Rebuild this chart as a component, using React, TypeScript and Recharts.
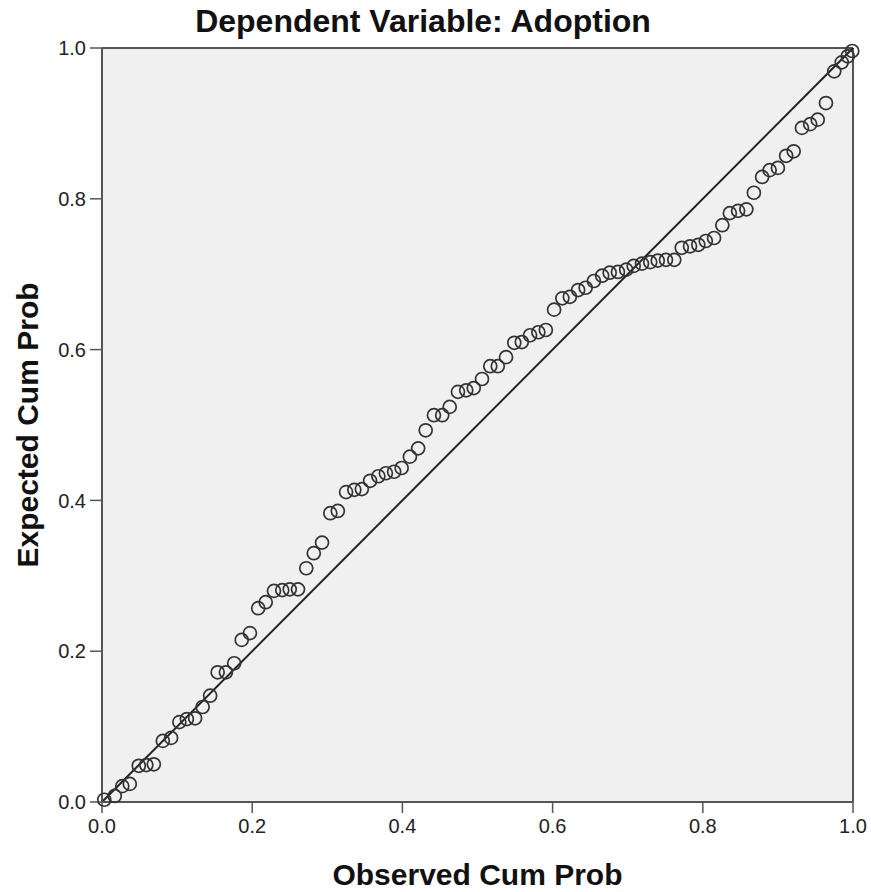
import React from 'react';
import {
  ScatterChart,
  Scatter,
  XAxis,
  YAxis,
  CartesianGrid,
  ReferenceLine,
  Label
} from 'recharts';

const observedCumProb = [
  0.003, 0.017, 0.027, 0.037, 0.049, 0.059, 0.069, 0.081, 0.092, 0.103,
  0.113, 0.124, 0.134, 0.144, 0.154, 0.165, 0.176, 0.186, 0.197, 0.208,
  0.218, 0.229, 0.240, 0.250, 0.261, 0.272, 0.282, 0.293, 0.304, 0.314,
  0.325, 0.336, 0.346, 0.357, 0.368, 0.378, 0.389, 0.399, 0.410, 0.421,
  0.431, 0.442, 0.453, 0.463, 0.474, 0.485, 0.495, 0.506, 0.517, 0.527,
  0.538, 0.549, 0.559, 0.570, 0.581, 0.591, 0.602, 0.613, 0.623, 0.634,
  0.644, 0.655, 0.666, 0.676, 0.687, 0.698, 0.708, 0.719, 0.730, 0.740,
  0.751, 0.762, 0.772, 0.783, 0.794, 0.804, 0.815, 0.826, 0.836, 0.847,
  0.858, 0.868, 0.879, 0.889, 0.900, 0.911, 0.921, 0.932, 0.943, 0.953,
  0.964, 0.975, 0.985, 0.993, 0.999
];

const expectedCumProb = [
  0.003, 0.008, 0.021, 0.024, 0.048, 0.049, 0.050, 0.081, 0.085, 0.106,
  0.110, 0.111, 0.126, 0.141, 0.172, 0.172, 0.184, 0.215, 0.224, 0.257,
  0.265, 0.280, 0.281, 0.282, 0.282, 0.310, 0.330, 0.344, 0.383, 0.386,
  0.411, 0.414, 0.415, 0.426, 0.432, 0.436, 0.438, 0.443, 0.458, 0.469,
  0.493, 0.513, 0.513, 0.524, 0.544, 0.546, 0.549, 0.561, 0.578, 0.578,
  0.590, 0.609, 0.610, 0.619, 0.623, 0.626, 0.653, 0.668, 0.670, 0.679,
  0.682, 0.691, 0.698, 0.702, 0.703, 0.706, 0.711, 0.714, 0.716, 0.718,
  0.719, 0.719, 0.735, 0.737, 0.739, 0.744, 0.748, 0.765, 0.781, 0.784,
  0.786, 0.808, 0.829, 0.838, 0.841, 0.857, 0.863, 0.894, 0.899, 0.905,
  0.927, 0.969, 0.981, 0.989, 0.996
];

const axisTicks = [0, 0.2, 0.4, 0.6, 0.8, 1.0];

const points = observedCumProb.map((x, i) => ({ x, y: expectedCumProb[i] }));

const FONT = '"Liberation Sans", Arial, sans-serif';
const AXIS_COLOR = '#555';

const OpenCircle = (props: any) => {
  const { cx, cy } = props;
  return <circle cx={cx} cy={cy} r={6.5} fill="none" stroke="#333" strokeWidth={1.7} />;
};

const App: React.FC = () => {
  return (
    <div style={{ position: 'absolute', left: 0, top: 0, width: 871, height: 892, background: '#fff' }}>
      <div
        style={{
          position: 'absolute',
          left: 0,
          top: 5,
          width: 846,
          textAlign: 'center',
          fontFamily: FONT,
          fontWeight: 'bold',
          fontSize: 32,
          lineHeight: '32px',
          color: '#111'
        }}
      >
        Dependent Variable: Adoption
      </div>
      <ScatterChart
        width={871}
        height={892}
        margin={{ top: 48, right: 18, bottom: 0, left: 0 }}
      >
        <CartesianGrid fill="#f0f0f0" horizontal={false} vertical={false} />
        <XAxis
          type="number"
          dataKey="x"
          domain={[0, 1]}
          ticks={axisTicks}
          tickFormatter={(v: number) => v.toFixed(1)}
          height={90}
          tickSize={11}
          tickMargin={6}
          tick={{ fill: '#222', fontSize: 20, fontFamily: FONT }}
          axisLine={{ stroke: AXIS_COLOR, strokeWidth: 2 }}
          tickLine={{ stroke: AXIS_COLOR, strokeWidth: 1.5 }}
        >
          <Label
            value="Observed Cum Prob"
            position="insideBottom"
            offset={7}
            style={{ fill: '#111', fontSize: 30, fontWeight: 'bold', fontFamily: FONT }}
          />
        </XAxis>
        <YAxis
          type="number"
          dataKey="y"
          domain={[0, 1]}
          ticks={axisTicks}
          tickFormatter={(v: number) => v.toFixed(1)}
          width={102}
          tickSize={12}
          tickMargin={4}
          tick={{ fill: '#222', fontSize: 20, fontFamily: FONT }}
          axisLine={{ stroke: AXIS_COLOR, strokeWidth: 2 }}
          tickLine={{ stroke: AXIS_COLOR, strokeWidth: 1.5 }}
        >
          <Label
            value="Expected Cum Prob"
            angle={-90}
            position="insideLeft"
            offset={27}
            textAnchor="middle"
            style={{ fill: '#111', fontSize: 30, fontWeight: 'bold', fontFamily: FONT }}
          />
        </YAxis>
        <ReferenceLine y={1} stroke={AXIS_COLOR} strokeWidth={2} />
        <ReferenceLine x={1} stroke={AXIS_COLOR} strokeWidth={2} />
        <ReferenceLine
          segment={[{ x: 0, y: 0 }, { x: 1, y: 1 }]}
          stroke="#222"
          strokeWidth={2}
        />
        <Scatter data={points} shape={OpenCircle} isAnimationActive={false} />
      </ScatterChart>
    </div>
  );
};

export default App;
